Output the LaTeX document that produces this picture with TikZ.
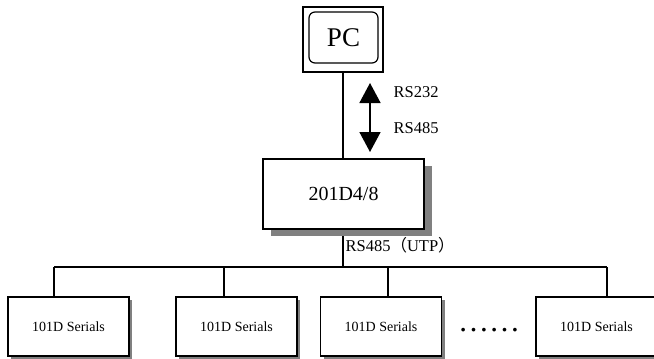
\documentclass[tikz,border=0pt]{standalone}
\usepackage{fontspec}
\setmainfont{Liberation Serif}
\newfontfamily\cjk{Noto Sans CJK SC}
\usetikzlibrary{arrows.meta, shadows, backgrounds}

\begin{document}
\begin{tikzpicture}[
   x=1pt, y=-1pt,
   line width=1.2pt,
   pcframe/.style={
     draw,
     minimum width=80pt,
     minimum height=65pt,
    },
   pcscreen/.style={
     draw,
     rounded corners=6pt,
     minimum width=69pt,
     minimum height=51pt,
     font=\fontsize{27}{30}\selectfont,
    },
   hubbox/.style={
     draw,
     fill=white,
     minimum width=161pt,
     minimum height=70pt,
     drop shadow={shadow xshift=8pt, shadow yshift=-7pt, fill=gray, opacity=1},
     font=\fontsize{20}{24}\selectfont,
    },
   unit/.style={
     draw,
     fill=white,
     minimum width=121pt,
     minimum height=59pt,
     drop shadow={shadow xshift=3pt, shadow yshift=-3pt, fill=gray, opacity=1},
     font=\fontsize{14}{16}\selectfont,
    },
   lbl/.style={
     anchor=west,
     inner sep=0pt,
     font=\fontsize{16.5}{18}\selectfont,
    },
   wire/.style={
     line width=1.2pt,
    },
   tip/.style={
     {Triangle[length=20pt,width=21pt]}-{Triangle[length=20pt,width=21pt]},
     line width=1.6pt,
    },
  ]
\useasboundingbox (0,0) rectangle (654,359);
\clip (0,0) rectangle (654,359);

\node[pcframe] (frame) at (343,39.5) {};
\node[pcscreen] (pc) at (343.5,37.5) {PC};
\node[hubbox] (hub) at (343.5,194) {201D4/8};

\node[unit] (s1) at (68.5,326.5) {101D Serials};
\node[unit] (s2) at (236.5,326.5) {101D Serials};
\node[unit] (s3) at (381,326.5) {101D Serials};
\node[unit] (s4) at (596.5,326.5) {101D Serials};
\node[anchor=base, inner sep=0pt, font=\fontsize{31}{31}\selectfont] (more) at (489,331.5) {……};

\node[lbl] (rs232) at (393,92) {RS232};
\node[lbl] (rs485) at (393,128) {RS485};
\node[lbl] (utp) at (345,245) {RS485{\cjk （}UTP{\cjk ）}};

\coordinate (up) at (370,83);
\coordinate (dn) at (370,152);
\coordinate (t1) at (54,267);
\coordinate (t2) at (224,267);
\coordinate (t3) at (388,267);
\coordinate (t4) at (607,267);

\draw[tip] (dn) -- (up);
\begin{pgfonlayer}{background}
\draw[wire] (frame.south) -- (frame.south |- hub.north);
\draw[wire] (frame.south |- hub.south) -- (frame.south |- t1);
\draw[wire] (t1) -- (t4);
\foreach \i in {1,...,4}
  \draw[wire] (t\i) -- (t\i |- s\i.north);
\end{pgfonlayer}
\end{tikzpicture}
\end{document}
